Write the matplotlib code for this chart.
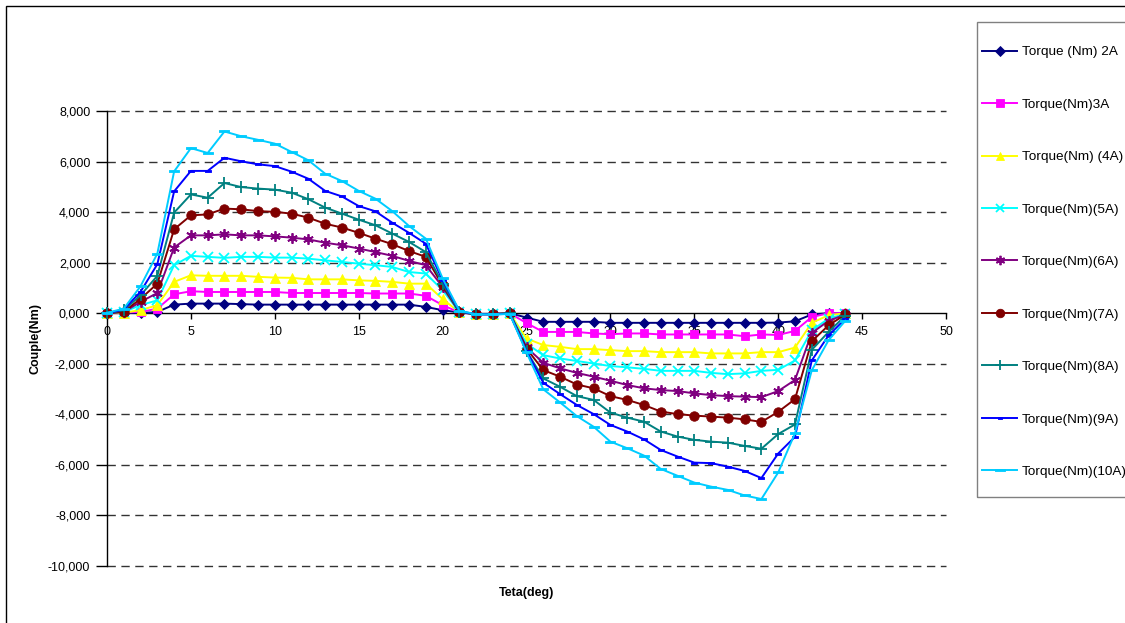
import numpy as np
import matplotlib
matplotlib.use("Agg")
import matplotlib.pyplot as plt
from matplotlib.patches import Rectangle
from matplotlib.ticker import FuncFormatter, MultipleLocator

plt.rcParams["font.family"] = ["Liberation Sans", "DejaVu Sans"]

# Rotor angle (deg)
teta = list(range(45))

# Torque (Nm) per phase current
torque_2A = [0.00, 0.02, 0.01, 0.05, 0.34, 0.38, 0.38, 0.38, 0.36, 0.34, 0.34, 0.34, 0.34, 0.34, 0.34,
             0.34, 0.34, 0.34, 0.34, 0.25, 0.12, 0.03, -0.03, -0.03, 0.00, -0.17, -0.34, -0.34, -0.34,
             -0.34, -0.38, -0.38, -0.38, -0.38, -0.38, -0.38, -0.38, -0.38, -0.38, -0.38, -0.37, -0.32,
             -0.05, 0.00, 0.00]
torque_3A = [0.00, 0.03, 0.05, 0.18, 0.75, 0.87, 0.84, 0.84, 0.84, 0.84, 0.84, 0.80, 0.80, 0.80, 0.80,
             0.80, 0.78, 0.78, 0.78, 0.69, 0.32, 0.03, -0.03, -0.03, 0.00, -0.39, -0.74, -0.74, -0.74,
             -0.80, -0.83, -0.80, -0.80, -0.84, -0.84, -0.84, -0.84, -0.84, -0.91, -0.84, -0.86, -0.70,
             -0.15, 0.00, 0.00]
torque_4A = [0.00, 0.02, 0.12, 0.32, 1.24, 1.50, 1.48, 1.48, 1.48, 1.44, 1.41, 1.40, 1.34, 1.34, 1.34,
             1.30, 1.28, 1.24, 1.17, 1.17, 0.56, 0.04, -0.03, -0.03, 0.00, -1.00, -1.26, -1.33, -1.42,
             -1.42, -1.46, -1.50, -1.50, -1.54, -1.54, -1.54, -1.59, -1.59, -1.59, -1.54, -1.54, -1.36,
             -0.38, -0.08, 0.00]
torque_5A = [0.00, 0.05, 0.32, 0.51, 1.90, 2.27, 2.23, 2.19, 2.23, 2.23, 2.20, 2.20, 2.16, 2.09, 2.03,
             1.96, 1.90, 1.83, 1.63, 1.57, 0.91, 0.05, -0.03, -0.03, 0.00, -1.20, -1.66, -1.79, -1.89,
             -1.99, -2.09, -2.14, -2.20, -2.28, -2.28, -2.28, -2.36, -2.41, -2.38, -2.28, -2.24, -1.87,
             -0.68, -0.21, -0.03]
torque_6A = [0.00, 0.05, 0.45, 0.80, 2.60, 3.08, 3.08, 3.12, 3.08, 3.08, 3.04, 2.99, 2.92, 2.79, 2.69,
             2.56, 2.42, 2.27, 2.07, 1.90, 1.04, 0.05, -0.04, -0.03, 0.00, -1.35, -1.96, -2.18, -2.36,
             -2.51, -2.67, -2.84, -2.97, -3.04, -3.08, -3.17, -3.24, -3.28, -3.30, -3.32, -3.08, -2.64,
             -0.78, -0.30, -0.05]
torque_7A = [0.00, 0.06, 0.57, 1.17, 3.32, 3.87, 3.91, 4.14, 4.11, 4.04, 4.01, 3.94, 3.78, 3.54, 3.39,
             3.18, 2.95, 2.73, 2.46, 2.23, 1.10, 0.05, -0.04, -0.04, 0.00, -1.40, -2.25, -2.51, -2.82,
             -2.97, -3.28, -3.43, -3.63, -3.89, -3.99, -4.05, -4.09, -4.13, -4.20, -4.30, -3.90, -3.40,
             -1.11, -0.48, -0.05]
torque_8A = [0.00, 0.12, 0.71, 1.48, 3.98, 4.70, 4.57, 5.15, 4.99, 4.93, 4.89, 4.77, 4.51, 4.18, 3.94,
             3.70, 3.48, 3.15, 2.82, 2.42, 1.17, 0.05, -0.04, -0.04, 0.00, -1.50, -2.58, -2.91, -3.28,
             -3.43, -3.93, -4.13, -4.29, -4.68, -4.88, -5.01, -5.08, -5.12, -5.25, -5.36, -4.78, -4.40,
             -1.45, -0.74, -0.10]
torque_9A = [0.00, 0.15, 0.85, 1.94, 4.82, 5.63, 5.63, 6.15, 6.01, 5.89, 5.82, 5.60, 5.32, 4.84, 4.62,
             4.24, 4.03, 3.58, 3.18, 2.75, 1.30, 0.08, -0.04, -0.05, -0.02, -1.50, -2.75, -3.20, -3.63,
             -3.99, -4.42, -4.68, -4.99, -5.41, -5.67, -5.91, -5.93, -6.07, -6.24, -6.52, -5.55, -4.89,
             -1.87, -0.88, -0.22]
torque_10A = [0.02, 0.18, 1.07, 2.36, 5.61, 6.53, 6.34, 7.19, 7.00, 6.86, 6.71, 6.38, 6.05, 5.52, 5.23,
              4.84, 4.53, 4.04, 3.45, 2.95, 1.38, 0.10, -0.04, -0.05, -0.03, -1.55, -3.01, -3.53, -4.07,
              -4.49, -5.08, -5.34, -5.63, -6.16, -6.43, -6.70, -6.86, -6.99, -7.21, -7.35, -6.30, -4.75,
              -2.26, -1.07, -0.30]

labels = ["Torque (Nm) 2A", "Torque(Nm)3A", "Torque(Nm) (4A)", "Torque(Nm)(5A)", "Torque(Nm)(6A)",
          "Torque(Nm)(7A)", "Torque(Nm)(8A)", "Torque(Nm)(9A)", "Torque(Nm)(10A)"]

series = [torque_2A, torque_3A, torque_4A, torque_5A, torque_6A,
          torque_7A, torque_8A, torque_9A, torque_10A]

colors = ["#000080", "#FF00FF", "#FFFF00", "#00FFFF", "#800080",
          "#800000", "#008080", "#0000FF", "#00CCFF"]

short_bar = [(-1, -0.55), (1, -0.55), (1, 0.55), (-1, 0.55), (-1, -0.55)]
long_bar = [(-1, -0.25), (1, -0.25), (1, 0.25), (-1, 0.25), (-1, -0.25)]

markers = ["D", "s", "^", "x", (6, 2, 0), "o", "+", short_bar, long_bar]
msizes = [5.5, 6.0, 7.0, 6.5, 7.5, 6.8, 8.0, 3.8, 7.5]

W, H = 1125, 623
fig = plt.figure(figsize=(W / 100, H / 100), dpi=100)
fig.patch.set_facecolor("white")

# outer chart border
fig.add_artist(Rectangle((6 / W, -0.05), 1.1, 1.05 - 6.5 / H, transform=fig.transFigure,
                         fill=False, edgecolor="black", linewidth=1.0, clip_on=False))

ax = fig.add_axes([107 / W, 1 - 566 / H, (946 - 107) / W, (566 - 111) / H])
ax.set_xlim(0, 50)
ax.set_ylim(-10, 8)

# dashed horizontal gridlines
for yv in np.arange(-10, 8.01, 2):
    if abs(yv) > 1e-9:
        ax.axhline(yv, color="#333333", linewidth=1.0, linestyle=(0, (6, 4)), zorder=1,
                   clip_on=False)

handles = []
for vals, lab, col, mk, ms in zip(series, labels, colors, markers, msizes):
    mew = 1.3 if mk in ("x", "+") or isinstance(mk, tuple) else 0.6
    h, = ax.plot(teta, vals, color=col, linewidth=1.4, marker=mk, markersize=ms,
                 markerfacecolor=col, markeredgecolor=col, markeredgewidth=mew,
                 label=lab, zorder=3, clip_on=False)
    handles.append(h)

for s in ("top", "right"):
    ax.spines[s].set_visible(False)
ax.spines["bottom"].set_position(("data", 0))
ax.spines["bottom"].set_linewidth(1.0)
ax.spines["left"].set_linewidth(1.0)
ax.spines["bottom"].set_zorder(2)

ax.xaxis.set_major_locator(MultipleLocator(5))
ax.yaxis.set_major_locator(MultipleLocator(2))
ax.yaxis.set_major_formatter(FuncFormatter(lambda v, p: f"{v:.3f}".replace(".", ",")))
ax.xaxis.set_major_formatter(FuncFormatter(lambda v, p: f"{int(round(v))}"))
ax.tick_params(axis="y", direction="out", length=8, width=1.0, pad=4, labelsize=9)
ax.tick_params(axis="x", direction="out", length=4, width=1.0, pad=5, labelsize=9)

fig.text(35 / W, 1 - 338 / H, "Couple(Nm)", rotation=90, ha="center", va="center",
         fontsize=9, fontweight="bold")
fig.text(527 / W, 1 - 593 / H, "Teta(deg)", ha="center", va="center",
         fontsize=9, fontweight="bold")

# legend frame and entries
fig.add_artist(Rectangle((977 / W, 1 - 497 / H), 0.2, (497 - 22) / H, transform=fig.transFigure,
                         fill=False, edgecolor="#808080", linewidth=1.0, clip_on=False))
leg = fig.legend(handles=handles, labels=labels, loc="upper left",
                 bbox_to_anchor=(982 / W, 1 - 46 / H), frameon=False, fontsize=9.7,
                 handlelength=2.6, handletextpad=0.35, labelspacing=2.97,
                 borderpad=0, borderaxespad=0, markerscale=0.9)

fig.savefig("out.png", dpi=100)
